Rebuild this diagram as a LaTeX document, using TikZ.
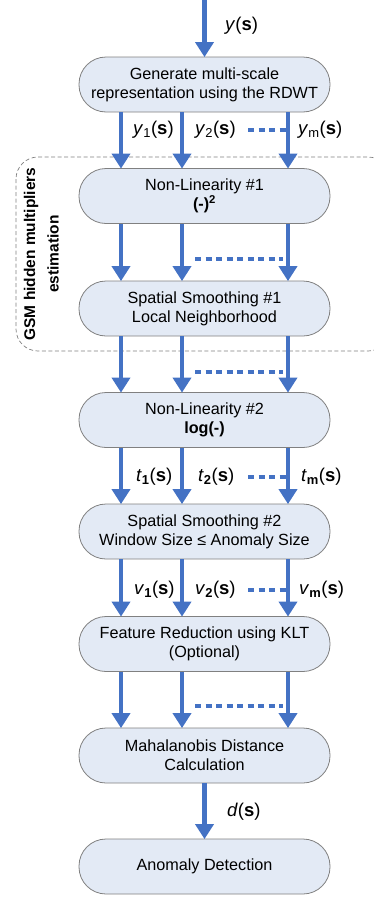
\documentclass[tikz,border=0pt]{standalone}
\usepackage{fontspec}
\setmainfont{Liberation Sans}
\usetikzlibrary{arrows.meta}
\definecolor{arrblue}{HTML}{4472C4}
\definecolor{boxfill}{HTML}{E3EAF5}
\definecolor{boxline}{HTML}{808080}
\tikzset{
  procbox/.style={draw=boxline, line width=0.8pt, fill=boxfill, rounded corners=27pt,
    minimum width=251pt, minimum height=55pt, inner sep=0pt, align=center,
    font=\fontsize{16.2}{19}\selectfont},
  flow/.style={draw=arrblue, line width=4.2pt, -{Triangle[width=18pt,length=15pt]}, shorten >=-0.5pt},
  dots/.style={draw=arrblue, line width=4pt, dash pattern=on 6pt off 4.5pt},
  lab/.style={font=\fontsize{18.5}{20}\selectfont, inner sep=0pt, anchor=west},
  grp/.style={draw=gray, line width=0.7pt, dash pattern=on 4pt off 2.5pt, rounded corners=22pt},
  grplab/.style={font=\bfseries\fontsize{15.5}{18}\selectfont, rotate=90, inner sep=0pt}
}
\newcommand{\sv}{(\textbf{s})}
\begin{document}
\begin{tikzpicture}[x=1pt,y=-1pt]
\useasboundingbox (0,0) rectangle (373,897);
% group box
\draw[grp] (16,157) rectangle (390,351);
\node[grplab] (g1) at (31,254) {GSM hidden multipliers};
\node[grplab] (g2) at (53,254) {estimation};
% boxes
\node[procbox] (b1) at (204.5,84.5) {Generate multi-scale\\representation using the RDWT};
\node[procbox] (b2) at (204.5,196) {Non-Linearity \#1\\\textbf{(-)\textsuperscript{2}}};
\node[procbox] (b3) at (204.5,308.5) {Spatial Smoothing \#1\\Local Neighborhood};
\node[procbox] (b4) at (204.5,420) {Non-Linearity \#2\\\textbf{log(-)}};
\node[procbox] (b5) at (204.5,531.5) {Spatial Smoothing \#2\\Window Size ≤ Anomaly Size};
\node[procbox] (b6) at (204.5,644) {Feature Reduction using KLT\\(Optional)};
\node[procbox] (b7) at (204.5,755.5) {Mahalanobis Distance\\Calculation};
\node[procbox] (b8) at (204.5,866.5) {Anomaly Detection};
% top input
\coordinate (in) at (204.5,0);
\draw[flow] (in) -- (b1.north);
\node[lab] (ly) at (225,26) {\textit{y}\sv};
% multi arrows
\foreach \a/\b in {b1/b2,b2/b3,b3/b4,b4/b5,b5/b6,b6/b7}{
  \draw[flow] (\a.south -| 121,0) -- (\b.north -| 121,0);
  \draw[flow] (\a.south -| 182,0) -- (\b.north -| 182,0);
  \draw[flow] (\a.south -| 288,0) -- (\b.north -| 288,0);
}
\draw[flow] (b7) -- (b8);
% unlabeled dashes
\foreach \y in {259,372,706}{
  \coordinate (da\y) at (195,\y);
  \coordinate (db\y) at (283,\y);
  \draw[dots] (da\y) -- (db\y);
}
% labeled rows
\foreach \y in {130,477,590}{
  \coordinate (dc\y) at (248,\y);
  \coordinate (dd\y) at (286,\y);
  \draw[dots] (dc\y) -- (dd\y);
}
\node[lab] (y1) at (133,130) {\textit{y}\textsubscript{1}\sv};
\node[lab] (y2) at (195,130) {\textit{y}\textsubscript{2}\sv};
\node[lab] (ym) at (298,130) {\textit{y}\textsubscript{m}\sv};
\node[lab] (t1) at (136,477) {\textit{t}\textsubscript{\textbf{1}}\sv};
\node[lab] (t2) at (198,477) {\textit{t}\textsubscript{\textbf{2}}\sv};
\node[lab] (tm) at (301,477) {\textit{t}\textsubscript{\textbf{m}}\sv};
\node[lab] (v1) at (134,590) {\textit{v}\textsubscript{\textbf{1}}\sv};
\node[lab] (v2) at (195,590) {\textit{v}\textsubscript{\textbf{2}}\sv};
\node[lab] (vm) at (299,590) {\textit{v}\textsubscript{\textbf{m}}\sv};
\node[lab] (ld) at (227,812) {\textit{d}\sv};
\end{tikzpicture}
\end{document}
